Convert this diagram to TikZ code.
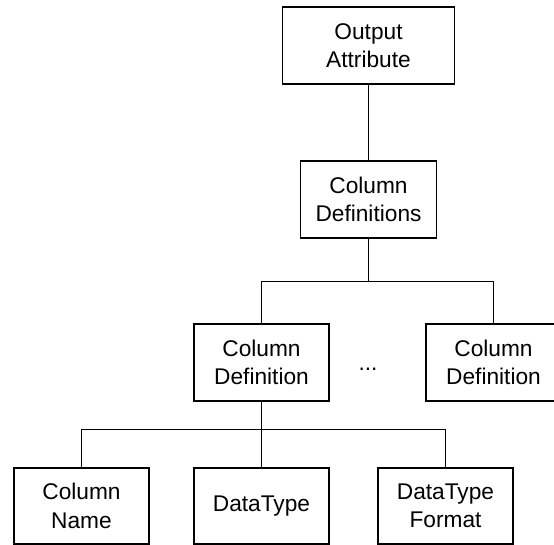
\documentclass[tikz,border=0pt]{standalone}
\usepackage{fontspec}
\setmainfont{Liberation Sans}
\begin{document}
\begin{tikzpicture}[x=1pt,y=-1pt,
  box/.style={draw,line width=1.9pt,minimum width=135pt,minimum height=77pt,
    align=center,inner sep=0pt,font=\fontsize{22.7}{28.5}\selectfont},
  link/.style={line width=1.8pt}]
  \useasboundingbox (0,0) rectangle (554,545);
  \clip (0,0) rectangle (554,545);
  % tree nodes
  \node[box,minimum width=172pt] (oa) at (368.5,45.5) {Output\\Attribute};
  \node[box,minimum width=136pt] (cds) at (368.5,199.5) {Column\\Definitions};
  \node[box] (cd1) at (261.5,362.5) {Column\\Definition};
  \node[box] (cd2) at (493.5,362.5) {Column\\Definition};
  \node[anchor=base,inner sep=0pt,font=\fontsize{22.7}{28.5}\selectfont] (dots) at (368,370) {...};
  \node[box,minimum height=76pt] (cn) at (81.5,506) {Column\\Name};
  \node[box,minimum height=76pt] (dt) at (261.5,506) {DataType};
  \node[box,minimum height=76pt] (dtf) at (445.5,506) {DataType\\Format};
  % branch points
  \coordinate (b1) at (368.5,281.5);
  \coordinate (b2) at (261.5,429.5);
  % connectors
  \draw[link] (oa) -- (cds);
  \draw[link] (cds.south) -- (b1);
  \draw[link] (cd1.north) |- (b1) -| (cd2.north);
  \draw[link] (cd1.south) -- (dt.north);
  \draw[link] (cn.north) |- (b2) -| (dtf.north);
\end{tikzpicture}
\end{document}
